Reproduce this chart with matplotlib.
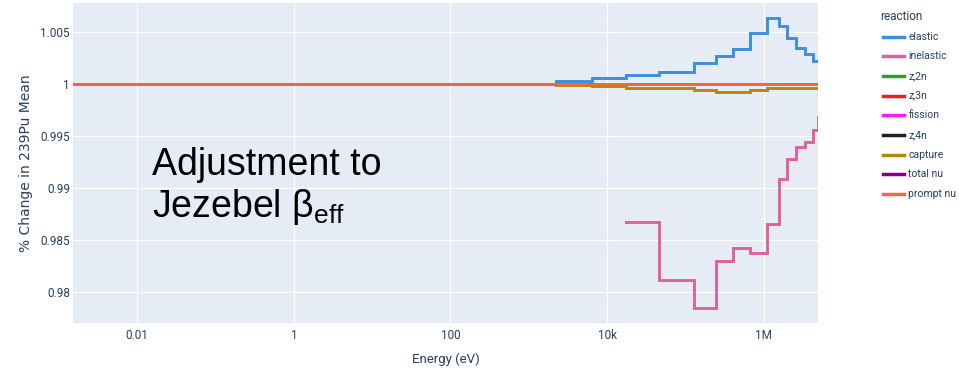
import matplotlib
matplotlib.use("Agg")
import matplotlib.pyplot as plt
from matplotlib.lines import Line2D
from matplotlib.ticker import FixedLocator, FixedFormatter, NullLocator

plt.rcParams['font.family'] = ['Roboto', 'DejaVu Sans']
plt.rcParams['mathtext.fontset'] = 'custom'
plt.rcParams['mathtext.rm'] = 'Liberation Sans'

# ---- data ----
group_edges = [2.23e3, 6.4e3, 1.75e4, 4.67e4, 1.3e5, 2.47e5, 4.1e5, 6.7e5,
               1.11e6, 1.55e6, 2.01e6, 2.6e6, 3.39e6, 4.3e6, 4.92e6, 6.0e6]
elastic = [1.00025, 1.00054, 1.0008, 1.00108, 1.0020, 1.00262, 1.00329, 1.00489,
           1.00627, 1.0055, 1.00438, 1.00342, 1.00288, 1.00214, 1.00214]
inelastic = [None, None, 0.98672, 0.98119, 0.97846, 0.98301, 0.98422, 0.98374,
             0.9865, 0.99082, 0.99274, 0.99392, 0.9944, 0.99552, 0.9968]
capture = [0.99985, 0.99974, 0.99955, 0.99955, 0.99936, 0.99917, 0.99917, 0.9994,
           0.99955, 0.9996, 0.9996, 0.9996, 0.9996, 0.9996, 0.9996]
flat_energy = [1e-5, 2.0e7]
flat_value = [1.0, 1.0]
reactions = ["elastic", "inelastic", "z,2n", "z,3n", "fission", "z,4n",
             "capture", "total nu", "prompt nu"]
colors = ["#3b8fe0", "#e0629b", "#2ca02c", "#ff1a1a", "#ff1aff", "#222222",
          "#b8860b", "#800080", "#ef6a3f"]
x_ticks = [1e-2, 1, 1e2, 1e4, 1e6]
x_tick_labels = ["0.01", "1", "100", "10k", "1M"]
y_ticks = [0.98, 0.985, 0.99, 0.995, 1.0, 1.005]
y_tick_labels = ["0.98", "0.985", "0.99", "0.995", "1", "1.005"]

W, H = 959, 374
fig = plt.figure(figsize=(W / 100, H / 100), dpi=100)
ax = fig.add_axes([72.7 / W, 1 - 323.3 / H, (818.5 - 72.7) / W, (323.3 - 2.7) / H])
ax.set_facecolor("#e5ecf6")
for s in ax.spines.values():
    s.set_visible(False)

lw = 2.1

def step_series(vals):
    xs, ys = [], []
    for i, v in enumerate(vals):
        if v is None:
            continue
        xs.append(group_edges[i])
        ys.append(v)
    xs.append(group_edges[len(vals)])
    ys.append(ys[-1])
    return xs, ys

series = {}
series["elastic"] = step_series(elastic)
series["inelastic"] = step_series(inelastic)
xc, yc = step_series(capture)
series["capture"] = ([flat_energy[0]] + xc, [flat_value[0]] + yc)
for name in ["z,2n", "z,3n", "fission", "z,4n", "total nu", "prompt nu"]:
    series[name] = (flat_energy, flat_value)

handles = []
for name, c in zip(reactions, colors):
    x, y = series[name]
    ln, = ax.step(x, y, where="post", color=c, lw=lw, solid_joinstyle="miter")
    handles.append(ln)

ax.set_xscale("log")
ax.set_xlim(10 ** -2.825, 10 ** 6.70)
ax.set_ylim(0.97700, 1.00778)

ax.xaxis.set_major_locator(FixedLocator(x_ticks))
ax.xaxis.set_major_formatter(FixedFormatter(x_tick_labels))
ax.xaxis.set_minor_locator(NullLocator())
ax.yaxis.set_major_locator(FixedLocator(y_ticks))
ax.yaxis.set_major_formatter(FixedFormatter(y_tick_labels))
ax.grid(True, color="white", lw=1.0)
ax.set_axisbelow(True)
ax.tick_params(length=0, labelsize=8.5, colors="#2a3f5f")
ax.tick_params(axis="x", pad=4)
ax.tick_params(axis="y", pad=2)

ax.set_xlabel("Energy (eV)", fontsize=9.5, color="#2a3f5f", labelpad=8)
ax.set_ylabel("% Change in 239Pu Mean", fontsize=10.0, color="#2a3f5f",
              labelpad=5, family="DejaVu Sans")

# annotation text
fig.text(152 / W, 1 - 175 / H, "Adjustment to", fontsize=27,
         family="Liberation Sans", va="baseline", ha="left", color="black")
fig.text(152 / W, 1 - 216.7 / H, r"Jezebel β$_{\rm eff}$", fontsize=27,
         family="Liberation Sans", va="baseline", ha="left", color="black")

# legend
fig.text(880.7 / W, 1 - 16.7 / H, "reaction", fontsize=8.5, color="#2a3f5f",
         va="center", ha="left")
for i, (name, h) in enumerate(zip(reactions, handles)):
    yy = 1 - (36.7 + i * 19.65) / H
    fig.add_artist(Line2D([882.7 / W, 904 / W], [yy, yy], transform=fig.transFigure,
                          color=h.get_color(), lw=2.5))
    fig.text(908.3 / W, yy, name, fontsize=7.5, color="#2a3f5f",
             va="center", ha="left")

fig.savefig("out.png", dpi=100)
